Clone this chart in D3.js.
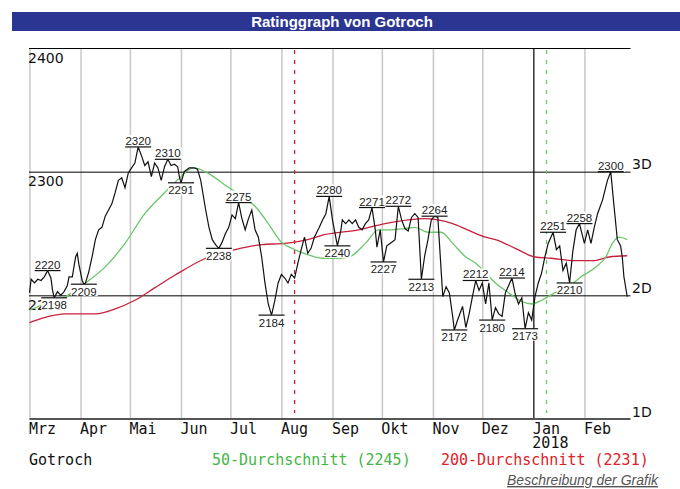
<!DOCTYPE html>
<html lang="de">
<head>
<meta charset="UTF-8">
<title>Ratinggraph von Gotroch</title>
<script src="https://d3js.org/d3.v7.min.js"></script>
<style>
    body { margin: 0; background: #fff; }
    .mono { font-family: "DejaVu Sans Mono", monospace; font-size: 15px; }
    .ext text { font-family: "Liberation Sans", Arial, sans-serif; font-size: 11.5px; fill: #222; }
</style>
</head>
<body>
<svg id="chart" width="680" height="489"></svg>
<script>
// rating points (date, rating)
const ratingSeries = [
    ["2017-03-01",2202],["2017-03-02",2213],["2017-03-04",2210],["2017-03-06",2213],["2017-03-08",2212],
    ["2017-03-10",2215],["2017-03-12",2220],["2017-03-14",2214],["2017-03-15",2204],["2017-03-16",2198],
    ["2017-03-18",2203],["2017-03-20",2200],["2017-03-22",2203],["2017-03-24",2208],["2017-03-25",2215],
    ["2017-03-27",2215],["2017-03-29",2231],["2017-03-30",2234],["2017-03-31",2225],["2017-04-02",2212],
    ["2017-04-03",2209],["2017-04-04",2210],["2017-04-06",2219],["2017-04-08",2231],["2017-04-10",2245],
    ["2017-04-12",2253],["2017-04-14",2255],["2017-04-16",2264],["2017-04-18",2269],["2017-04-20",2274],
    ["2017-04-22",2283],["2017-04-24",2293],["2017-04-26",2295],["2017-04-28",2287],["2017-04-30",2299],
    ["2017-05-02",2303],["2017-05-04",2307],["2017-05-06",2320],["2017-05-08",2313],["2017-05-10",2305],
    ["2017-05-12",2308],["2017-05-14",2296],["2017-05-16",2307],["2017-05-18",2303],["2017-05-20",2293],
    ["2017-05-22",2304],["2017-05-24",2310],["2017-05-26",2305],["2017-05-28",2306],["2017-05-30",2304],
    ["2017-05-31",2296],["2017-06-01",2291],["2017-06-03",2300],["2017-06-06",2303],["2017-06-09",2303],
    ["2017-06-11",2302],["2017-06-13",2293],["2017-06-16",2269],["2017-06-18",2255],["2017-06-20",2245],
    ["2017-06-22",2241],["2017-06-24",2238],["2017-06-26",2243],["2017-06-28",2250],["2017-06-30",2255],
    ["2017-07-02",2265],["2017-07-04",2262],["2017-07-06",2275],["2017-07-08",2262],["2017-07-10",2253],
    ["2017-07-12",2262],["2017-07-14",2269],["2017-07-16",2253],["2017-07-18",2247],["2017-07-20",2231],
    ["2017-07-22",2210],["2017-07-24",2193],["2017-07-26",2184],["2017-07-28",2196],["2017-07-30",2210],
    ["2017-08-01",2217],["2017-08-03",2214],["2017-08-05",2210],["2017-08-07",2217],["2017-08-09",2214],
    ["2017-08-11",2226],["2017-08-13",2237],["2017-08-15",2247],["2017-08-17",2234],["2017-08-19",2238],
    ["2017-08-21",2247],["2017-08-24",2255],["2017-08-26",2261],["2017-08-28",2266],["2017-08-30",2280],
    ["2017-09-01",2261],["2017-09-03",2247],["2017-09-04",2240],["2017-09-06",2252],["2017-09-07",2261],
    ["2017-09-09",2258],["2017-09-11",2261],["2017-09-13",2258],["2017-09-15",2261],["2017-09-17",2255],
    ["2017-09-19",2253],["2017-09-21",2258],["2017-09-23",2261],["2017-09-25",2271],["2017-09-27",2253],
    ["2017-09-28",2239],["2017-09-30",2253],["2017-10-02",2227],["2017-10-04",2240],["2017-10-07",2243],
    ["2017-10-09",2245],["2017-10-11",2272],["2017-10-13",2261],["2017-10-15",2254],["2017-10-17",2252],
    ["2017-10-19",2263],["2017-10-21",2266],["2017-10-23",2263],["2017-10-25",2213],["2017-10-27",2232],
    ["2017-10-29",2245],["2017-10-31",2261],["2017-11-02",2264],["2017-11-04",2263],["2017-11-06",2220],
    ["2017-11-07",2199],["2017-11-09",2207],["2017-11-11",2202],["2017-11-13",2183],["2017-11-14",2172],
    ["2017-11-16",2180],["2017-11-19",2191],["2017-11-21",2174],["2017-11-23",2185],["2017-11-25",2199],
    ["2017-11-27",2212],["2017-11-29",2204],["2017-12-01",2210],["2017-12-03",2193],["2017-12-05",2210],
    ["2017-12-07",2180],["2017-12-09",2190],["2017-12-11",2185],["2017-12-13",2183],["2017-12-15",2202],
    ["2017-12-17",2208],["2017-12-19",2214],["2017-12-21",2201],["2017-12-23",2193],["2017-12-25",2198],
    ["2017-12-27",2173],["2017-12-29",2186],["2017-12-31",2180],["2018-01-02",2199],["2018-01-04",2210],
    ["2018-01-06",2218],["2018-01-08",2231],["2018-01-10",2242],["2018-01-13",2251],["2018-01-15",2237],
    ["2018-01-17",2240],["2018-01-19",2220],["2018-01-21",2226],["2018-01-23",2210],["2018-01-25",2236],
    ["2018-01-27",2253],["2018-01-29",2258],["2018-02-01",2242],["2018-02-03",2253],["2018-02-05",2242],
    ["2018-02-07",2255],["2018-02-09",2266],["2018-02-12",2277],["2018-02-15",2293],["2018-02-17",2300],
    ["2018-02-19",2272],["2018-02-21",2245],["2018-02-23",2240],["2018-02-24",2231],["2018-02-25",2215],
    ["2018-02-27",2199]
];

// 50-day average
const avg50Series = [
    ["2017-03-01",2188],["2017-03-10",2193],["2017-03-23",2199],["2017-04-04",2210],["2017-04-16",2223],
    ["2017-04-28",2242],["2017-05-10",2266],["2017-05-22",2283],["2017-06-01",2296],["2017-06-05",2301],
    ["2017-06-09",2303],["2017-06-17",2299],["2017-06-29",2288],["2017-07-08",2280],["2017-07-16",2272],
    ["2017-07-24",2258],["2017-08-01",2243],["2017-08-09",2237],["2017-08-17",2233],["2017-08-26",2230],
    ["2017-09-02",2230],["2017-09-11",2231],["2017-09-21",2242],["2017-09-29",2253],["2017-10-07",2253],
    ["2017-10-15",2254],["2017-10-21",2255],["2017-10-29",2251],["2017-11-06",2251],["2017-11-13",2242],
    ["2017-11-21",2231],["2017-11-27",2226],["2017-12-09",2210],["2017-12-17",2202],["2017-12-25",2195],
    ["2017-12-31",2193],["2018-01-06",2196],["2018-01-14",2202],["2018-01-22",2207],["2018-01-30",2215],
    ["2018-02-08",2223],["2018-02-14",2231],["2018-02-18",2242],["2018-02-22",2247],["2018-02-27",2245]
];

// 200-day average
const avg200Series = [
    ["2017-03-01",2178],["2017-03-10",2182],["2017-03-23",2185],["2017-04-10",2185],["2017-04-22",2189],
    ["2017-05-04",2196],["2017-05-16",2206],["2017-05-28",2216],["2017-06-16",2230],["2017-07-04",2237],
    ["2017-07-20",2241],["2017-08-03",2242],["2017-08-17",2245],["2017-08-27",2249],["2017-09-17",2253],
    ["2017-10-03",2258],["2017-10-17",2261],["2017-10-27",2262],["2017-11-04",2261],["2017-11-13",2258],
    ["2017-11-22",2253],["2017-12-03",2247],["2017-12-09",2245],["2017-12-21",2238],["2018-01-02",2231],
    ["2018-01-12",2230],["2018-01-26",2228],["2018-02-06",2228],["2018-02-16",2231],["2018-02-27",2232]
];

// labelled highs and lows: date, value, side of the line
const extremes = [
    ["2017-03-12",2220,"top"],["2017-03-16",2198,"bottom"],["2017-04-03",2209,"bottom"],
    ["2017-05-06",2320,"top"],["2017-05-24",2310,"top"],["2017-06-01",2291,"bottom"],
    ["2017-06-24",2238,"bottom"],["2017-07-06",2275,"top"],["2017-07-26",2184,"bottom"],
    ["2017-08-30",2280,"top"],["2017-09-04",2240,"bottom"],["2017-09-25",2271,"top"],
    ["2017-10-02",2227,"bottom"],["2017-10-11",2272,"top"],["2017-10-25",2213,"bottom"],
    ["2017-11-02",2264,"top"],["2017-11-14",2172,"bottom"],["2017-11-27",2212,"top"],
    ["2017-12-07",2180,"bottom"],["2017-12-19",2214,"top"],["2017-12-27",2173,"bottom"],
    ["2018-01-13",2251,"top"],["2018-01-23",2210,"bottom"],["2018-01-29",2258,"top"],
    ["2018-02-17",2300,"top"]
];

const monthLabels = ["Mrz", "Apr", "Mai", "Jun", "Jul", "Aug", "Sep", "Okt", "Nov", "Dez", "Jan", "Feb"];
const yTicks = [2400, 2300, 2200];
const levelValues = [2300, 2200, 2100];
const levelNames = ["3D", "2D", "1D"];
const markerDates = ["2017-08-09", "2018-01-09"];
const markerColors = ["#d01c3c", "#6cc86c"];
const avg50Last = 2245, avg200Last = 2231;

const parse = d3.timeParse("%Y-%m-%d");
const plotLeft = 29.5, plotRight = 630.5, plotTop = 48, plotBottom = 419;

const svg = d3.select("#chart");

// title bar
svg.append("rect").attr("x", 12).attr("y", 12).attr("width", 668).attr("height", 19).attr("fill", "#2b3693");
svg.append("text").attr("x", 342).attr("y", 27).attr("text-anchor", "middle")
    .attr("fill", "#fff").attr("font-family", "Liberation Sans, Arial, sans-serif")
    .attr("font-size", 15).attr("font-weight", "bold").text("Ratinggraph von Gotroch");

const x = d3.scaleTime().domain([parse("2017-03-01"), parse("2018-03-01")]).range([plotLeft, plotRight]);
const y = d3.scaleLinear().domain([2100, 2400]).range([plotBottom, plotTop]);

// month grid + labels
const months = d3.timeMonths(parse("2017-03-01"), parse("2018-03-01"));
const xAxis = svg.append("g").attr("class", "mono")
    .attr("transform", `translate(0,${plotTop})`)
    .call(d3.axisBottom(x).tickValues(months).tickSize(plotBottom - plotTop).tickPadding(4)
        .tickFormat((d, i) => monthLabels[i]));
xAxis.select(".domain").remove();
xAxis.selectAll("line").attr("stroke", (d, i) => monthLabels[i] === "Jan" ? "#000" : "#c8c8c8")
    .attr("stroke-width", (d, i) => monthLabels[i] === "Jan" ? 1.2 : 1.5);
xAxis.selectAll("text").attr("text-anchor", "start").attr("x", -1)
    .attr("fill", "#111").attr("font-size", 15);
svg.append("text").attr("class", "mono").attr("x", x(parse("2018-01-01")) - 1).attr("y", 448)
    .attr("fill", "#111").text("2018");

// horizontal lines + value labels
const yAxis = svg.append("g").attr("transform", `translate(${plotLeft - 0.5},0)`)
    .call(d3.axisRight(y).tickValues(yTicks).tickSize(plotRight - plotLeft + 0.5).tickFormat(d3.format("d")));
yAxis.select(".domain").remove();
yAxis.selectAll("line").attr("stroke", "#000").attr("stroke-width", 1);
yAxis.selectAll("text").attr("x", -1).attr("dy", 14).attr("text-anchor", "start")
    .attr("font-family", "DejaVu Sans, sans-serif").attr("font-size", 14).attr("fill", "#111");

// level names on the right
const levels = svg.append("g").attr("transform", `translate(${plotRight + 1.5},0)`)
    .call(d3.axisRight(y).tickValues(levelValues).tickSize(0).tickPadding(0)
        .tickFormat((d, i) => levelNames[i]));
levels.select(".domain").remove();
levels.selectAll("text").attr("dy", -3).attr("font-family", "DejaVu Sans, sans-serif")
    .attr("font-size", 14).attr("fill", "#111");

// bottom axis line
svg.append("line").attr("x1", plotLeft).attr("x2", plotRight).attr("y1", plotBottom).attr("y2", plotBottom)
    .attr("stroke", "#555").attr("stroke-width", 2);

// dashed markers
svg.append("g").selectAll("line").data(markerDates).join("line")
    .attr("x1", d => x(parse(d))).attr("x2", d => x(parse(d)))
    .attr("y1", plotTop + 2).attr("y2", plotBottom - 6)
    .attr("stroke", (d, i) => markerColors[i]).attr("stroke-width", 1.3)
    .attr("stroke-dasharray", "4,6");

const line = d3.line().x(d => x(parse(d[0]))).y(d => y(d[1]));

svg.append("path").datum(avg200Series).attr("d", line.curve(d3.curveMonotoneX))
    .attr("fill", "none").attr("stroke", "#c8203c").attr("stroke-width", 1.3);
svg.append("path").datum(avg50Series).attr("d", line.curve(d3.curveMonotoneX))
    .attr("fill", "none").attr("stroke", "#6cc46c").attr("stroke-width", 1.3);
svg.append("path").datum(ratingSeries).attr("d", line.curve(d3.curveLinear))
    .attr("fill", "none").attr("stroke", "#111").attr("stroke-width", 1.2);

// high / low labels
const ext = svg.append("g").attr("class", "ext").selectAll("g").data(extremes).join("g")
    .attr("transform", d => `translate(${x(parse(d[0]))},${y(d[1])})`);
ext.append("rect").attr("x", -13).attr("width", 27).attr("height", 12)
    .attr("y", d => d[2] === "top" ? -12 : 0).attr("fill", "#fff");
ext.append("line").attr("x1", -13).attr("x2", 13).attr("stroke", "#111").attr("stroke-width", 1.2);
ext.append("text").attr("text-anchor", "middle")
    .attr("y", d => d[2] === "top" ? -2 : 11.5).text(d => d[1]);

// legend
const legend = svg.append("g").attr("class", "mono");
legend.append("text").attr("x", 29).attr("y", 465).attr("fill", "#111").text("Gotroch");
legend.append("text").attr("x", 212).attr("y", 465).attr("fill", "#45b545")
    .text(`50-Durchschnitt (${avg50Last})`);
legend.append("text").attr("x", 441).attr("y", 465).attr("fill", "#e02028")
    .text(`200-Durchschnitt (${avg200Last})`);

svg.append("text").attr("x", 658).attr("y", 485).attr("text-anchor", "end")
    .attr("font-family", "Liberation Sans, Arial, sans-serif").attr("font-size", 14)
    .attr("font-style", "italic").attr("text-decoration", "underline").attr("fill", "#555")
    .text("Beschreibung der Grafik");
</script>
</body>
</html>
